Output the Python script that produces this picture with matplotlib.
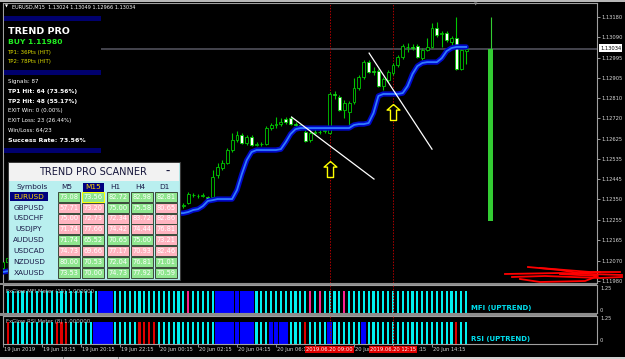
import matplotlib
matplotlib.use("Agg")
import matplotlib.pyplot as plt
from matplotlib.patches import Rectangle
from matplotlib.path import Path
from matplotlib.lines import Line2D

W, H = 625, 359
BAR_PX = 4.875  # pixels per M15 bar on screen

# ---------------- chart data (EURUSD M15) ----------------
opens = [1.12038, 1.12065, 1.12083, 1.12097, 1.12088, 1.12120, 1.12138, 1.12129, 1.12156, 1.12174,
         1.12165, 1.12188, 1.12202, 1.12193, 1.12220, 1.12234, 1.12225, 1.12247, 1.12256, 1.12243,
         1.12229, 1.12238, 1.12256, 1.12274, 1.12265, 1.12283, 1.12297, 1.12288, 1.12279, 1.12293,
         1.12306, 1.12297, 1.12311, 1.12302, 1.12315, 1.12306, 1.12311, 1.12320, 1.12334, 1.12370,
         1.12366, 1.12368, 1.12361, 1.12361, 1.12461, 1.12493, 1.12516, 1.12575, 1.12620, 1.12643,
         1.12607, 1.12634, 1.12600, 1.12602, 1.12602, 1.12675, 1.12689, 1.12693, 1.12716, 1.12720,
         1.12693, 1.12689, 1.12657, 1.12620, 1.12652, 1.12657, 1.12661, 1.12652, 1.12830, 1.12816,
         1.12757, 1.12748, 1.12793, 1.12857, 1.12907, 1.12975, 1.12934, 1.12934, 1.12866, 1.12893,
         1.12925, 1.12962, 1.12998, 1.13044, 1.13044, 1.13048, 1.12993, 1.13030, 1.13044, 1.13130,
         1.13103, 1.13107, 1.13066, 1.13084, 1.12943, 1.13024]
highs = [1.12074, 1.12092, 1.12106, 1.12110, 1.12129, 1.12147, 1.12147, 1.12165, 1.12183, 1.12188,
         1.12197, 1.12215, 1.12211, 1.12229, 1.12243, 1.12243, 1.12256, 1.12265, 1.12261, 1.12252,
         1.12247, 1.12265, 1.12283, 1.12283, 1.12293, 1.12306, 1.12306, 1.12297, 1.12302, 1.12315,
         1.12315, 1.12320, 1.12320, 1.12325, 1.12320, 1.12329, 1.12343, 1.12334, 1.12384, 1.12379,
         1.12375, 1.12379, 1.12366, 1.12484, 1.12516, 1.12529, 1.12584, 1.12652, 1.12661, 1.12652,
         1.12643, 1.12643, 1.12611, 1.12611, 1.12684, 1.12698, 1.12725, 1.12720, 1.12725, 1.12730,
         1.12702, 1.12693, 1.12666, 1.12666, 1.12670, 1.12666, 1.12675, 1.12839, 1.12843, 1.12825,
         1.12802, 1.12798, 1.12902, 1.12916, 1.12984, 1.12984, 1.12953, 1.12943, 1.12907, 1.12939,
         1.12971, 1.13007, 1.13057, 1.13062, 1.13057, 1.13057, 1.13039, 1.13084, 1.13153, 1.13157,
         1.13116, 1.13116, 1.13094, 1.13180, 1.13039, 1.13049]
lows = [1.12029, 1.12052, 1.12074, 1.12079, 1.12083, 1.12111, 1.12120, 1.12120, 1.12147, 1.12156,
        1.12156, 1.12179, 1.12184, 1.12188, 1.12211, 1.12215, 1.12220, 1.12238, 1.12234, 1.12220,
        1.12220, 1.12229, 1.12247, 1.12256, 1.12256, 1.12274, 1.12279, 1.12270, 1.12270, 1.12284,
        1.12288, 1.12288, 1.12293, 1.12293, 1.12297, 1.12297, 1.12302, 1.12311, 1.12329, 1.12361,
        1.12356, 1.12361, 1.12347, 1.12356, 1.12447, 1.12484, 1.12511, 1.12566, 1.12611, 1.12602,
        1.12598, 1.12593, 1.12593, 1.12593, 1.12598, 1.12666, 1.12675, 1.12684, 1.12693, 1.12689,
        1.12680, 1.12666, 1.12611, 1.12611, 1.12648, 1.12648, 1.12652, 1.12648, 1.12807, 1.12752,
        1.12720, 1.12689, 1.12784, 1.12848, 1.12898, 1.12925, 1.12916, 1.12862, 1.12848, 1.12884,
        1.12916, 1.12953, 1.12989, 1.13021, 1.13030, 1.12993, 1.12984, 1.13025, 1.13039, 1.13089,
        1.13044, 1.13066, 1.13053, 1.12939, 1.12939, 1.12966]
closes = [1.12065, 1.12083, 1.12097, 1.12088, 1.12120, 1.12138, 1.12129, 1.12156, 1.12174, 1.12165,
          1.12188, 1.12202, 1.12193, 1.12220, 1.12234, 1.12225, 1.12247, 1.12256, 1.12243, 1.12229,
          1.12238, 1.12256, 1.12274, 1.12265, 1.12283, 1.12297, 1.12288, 1.12279, 1.12293, 1.12306,
          1.12297, 1.12311, 1.12302, 1.12315, 1.12306, 1.12320, 1.12334, 1.12325, 1.12375, 1.12372,
          1.12368, 1.12370, 1.12352, 1.12452, 1.12498, 1.12516, 1.12575, 1.12620, 1.12643, 1.12607,
          1.12634, 1.12598, 1.12602, 1.12604, 1.12675, 1.12689, 1.12693, 1.12702, 1.12702, 1.12693,
          1.12689, 1.12675, 1.12616, 1.12652, 1.12657, 1.12659, 1.12666, 1.12830, 1.12825, 1.12757,
          1.12789, 1.12789, 1.12857, 1.12907, 1.12975, 1.12930, 1.12932, 1.12866, 1.12898, 1.12930,
          1.12962, 1.12998, 1.13048, 1.13046, 1.13039, 1.12998, 1.13030, 1.13044, 1.13130, 1.13098,
          1.13107, 1.13075, 1.13084, 1.12943, 1.13030, 1.13034]

# trend stop line (blue)
trend_line = [1.12020, 1.12024, 1.12029, 1.12033, 1.12038, 1.12038, 1.12038, 1.12038, 1.12047, 1.12074,
              1.12111, 1.12143, 1.12165, 1.12165, 1.12165, 1.12165, 1.12174, 1.12193, 1.12211, 1.12215,
              1.12215, 1.12215, 1.12215, 1.12220, 1.12229, 1.12243, 1.12252, 1.12256, 1.12256, 1.12261,
              1.12270, 1.12275, 1.12279, 1.12279, 1.12284, 1.12284, 1.12288, 1.12288, 1.12293, 1.12302,
              1.12306, 1.12320, 1.12343, 1.12347, 1.12352, 1.12352, 1.12352, 1.12352, 1.12393, 1.12466,
              1.12529, 1.12566, 1.12575, 1.12575, 1.12575, 1.12575, 1.12575, 1.12579, 1.12611, 1.12648,
              1.12670, 1.12675, 1.12675, 1.12675, 1.12675, 1.12675, 1.12675, 1.12675, 1.12675, 1.12675,
              1.12675, 1.12675, 1.12689, 1.12693, 1.12693, 1.12698, 1.12743, 1.12821, 1.12830, 1.12830,
              1.12830, 1.12830, 1.12834, 1.12866, 1.12921, 1.12957, 1.12971, 1.12975, 1.12975, 1.12975,
              1.12993, 1.13025, 1.13039, 1.13044, 1.13044, 1.13044]

signal_bars = [67, 80]
signal_prices = [1.12489, 1.12748]
signal_times = ["2019.06.20 09:00", "2019.06.20 12:15"]

trendline_bars = [[59.2, 76.1], [75.1, 88.0]]
trendline_prices = [[1.12725, 1.12443], [1.13016, 1.12579]]

strength_bar = 100
strength_low, strength_top, strength_high = 1.12253, 1.13034, 1.13180

last_price = 1.13034
price_levels = [1.13180, 1.13090, 1.12995, 1.12905, 1.12810, 1.12720, 1.12625,
                1.12535, 1.12445, 1.12350, 1.12255, 1.12165, 1.12070, 1.11980]

# time scale: tick bars and the part of each label left visible by the red boxes
time_tick_bars = [0, 8, 16, 24, 32, 40, 48, 56, 64, 72, 80, 88]
time_label_bars = [0, 8, 16, 24, 32, 40, 48, 56, 72, 85, 88]
time_labels = ["19 Jun 2019", "19 Jun 18:15", "19 Jun 20:15", "19 Jun 22:15",
               "20 Jun 00:15", "20 Jun 02:15", "20 Jun 04:15", "20 Jun 06:1",
               "20 Jun", ":15", "20 Jun 14:15"]

# meter states per bar: c = up (cyan), b = strong (blue), m / r = down
mfi_state = ("cccccccccc" "cccccccccc" "bbbccccccc" "ccccccccmc" "ccccbbbbbb"
             "bbcccccccc" "cccmcmcccc" "mccccccccc" "cccccccccc" "cccccc")
rsi_state = ("crcccccccc" "crrrcccccb" "bbbcccccrr" "rrcccccccc" "ccccbbbbbb"
             "bbcccbbbbc" "ccrccccbcc" "ccccbccccc" "cccccccccc" "cccrcc")

scanner_symbols = ["EURUSD", "GBPUSD", "USDCHF", "USDJPY", "AUDUSD", "USDCAD", "NZDUSD", "XAUUSD"]
scanner_tfs = ["M5", "M15", "H1", "H4", "D1"]
scanner_values = [
    [73.08, 73.56, 82.72, 82.98, 82.81],
    [57.71, 73.20, 75.00, 75.58, 80.65],
    [75.00, 72.73, 72.34, 83.72, 82.86],
    [71.74, 77.66, 74.42, 74.44, 76.81],
    [71.74, 65.52, 70.65, 75.00, 73.21],
    [74.73, 69.66, 77.17, 70.93, 82.46],
    [80.00, 70.53, 72.04, 76.81, 71.01],
    [73.53, 70.00, 74.73, 77.92, 70.59],
]
scanner_up = ["GGGGG", "PPGGP", "PPPPP", "PPPPP", "GGGGP", "PPPPP", "GGGGG", "GGGGG"]

info_lines = [
    ("TREND PRO", "white", 6.8, "bold"),
    ("BUY 1.11980", "#22EE22", 5.4, "bold"),
    ("TP1: 36Pts (HIT)", "#DADA00", 4.0, "normal"),
    ("TP2: 78Pts (HIT)", "#DADA00", 4.0, "normal"),
    ("Signals: 87", "white", 4.0, "normal"),
    ("TP1 Hit: 64 (73.56%)", "white", 4.2, "bold"),
    ("TP2 Hit: 48 (55.17%)", "white", 4.2, "bold"),
    ("EXIT Win: 0 (0.00%)", "white", 4.0, "normal"),
    ("EXIT Loss: 23 (26.44%)", "white", 4.0, "normal"),
    ("Win/Loss: 64/23", "white", 4.0, "normal"),
    ("Success Rate: 73.56%", "white", 4.5, "bold"),
]
info_y = [31, 42, 52.5, 62, 81, 91, 101, 110.5, 120, 129.5, 140]

# red marker scribble bottom right (pixel points)
scribble = [
    [(505, 274), (560, 273), (622, 275)],
    [(528, 267), (560, 270), (578, 273), (600, 272)],
    [(512, 277), (545, 276), (600, 278), (622, 277)],
    [(520, 279), (540, 282), (585, 281), (598, 276), (560, 274)],
    [(540, 268), (590, 272), (620, 272)],
]

# ---------------- figure ----------------
fig = plt.figure(figsize=(W / 100, H / 100), dpi=100, facecolor="black")


def fx(x):
    return x / W


def fy(y):
    return 1 - y / H


def box(x0, y0, x1, y1, **kw):
    fig.add_artist(Rectangle((fx(x0), fy(y1)), (x1 - x0) / W, (y1 - y0) / H,
                             transform=fig.transFigure, **kw))


def label(x, y, s, **kw):
    kw.setdefault("va", "center")
    fig.text(fx(x), fy(y), s, **kw)


xmax = 594 / BAR_PX
frame = "#A0A0A0"
green = "#00C800"

# ---- main price window ----
ax = fig.add_axes([fx(3), fy(283), 594 / W, 280 / H])
ax.set_facecolor("black")
ax.set_xlim(0, xmax)
ax.set_ylim(1.11970, 1.13244)
idx = list(range(len(closes)))

ax.axhline(last_price, color="#4A4A54", lw=1.3, zorder=1)
for b in signal_bars:
    ax.axvline(b, color="#B00000", ls=(0, (1.5, 1.5)), lw=0.7, zorder=1)

ax.vlines(idx, lows, highs, color=green, lw=0.8, zorder=2)
ax.bar(idx, [c - o for o, c in zip(opens, closes)], bottom=opens, width=0.6,
       color=["black" if c >= o else "white" for o, c in zip(opens, closes)],
       edgecolor=green, linewidth=0.6, zorder=3)

ax.plot(idx, trend_line, color="#0008C8", lw=3.8, solid_capstyle="round", zorder=4)
ax.plot(idx, trend_line, color="#2F7BFF", lw=1.3, zorder=5)

for xs, ys in zip(trendline_bars, trendline_prices):
    ax.plot(xs, ys, color="white", lw=0.9, zorder=6)

arrow = Path([(0, 1), (0.8, 0.3), (0.38, 0.3), (0.38, -1), (-0.38, -1),
              (-0.38, 0.3), (-0.8, 0.3), (0, 1)])
ax.plot(signal_bars, signal_prices, ls="none", marker=arrow, markersize=11.5,
        markerfacecolor="black", markeredgecolor="#FFFF00", markeredgewidth=1.0, zorder=7)

ax.bar([strength_bar], [strength_top - strength_low], bottom=[strength_low], width=0.9,
       color="#33CC33", zorder=3)
ax.vlines([strength_bar], strength_top, strength_high, color="#33CC33", lw=0.8, zorder=3)

ax.yaxis.tick_right()
ax.set_yticks(price_levels)
ax.set_yticklabels([f"{p:.5f}" for p in price_levels])
ax.tick_params(axis="y", colors="#D8D8D8", labelsize=3.7, length=2, width=0.5, pad=1)
ax.set_xticks([])
for s in ax.spines.values():
    s.set_color(frame)
    s.set_linewidth(0.8)

# ---- meter windows ----
meter_colors = {"c": "#00F0F0", "b": "#0000FF", "m": "#FF2090", "r": "#E00000"}
meter_width = {"c": 0.45, "b": 0.95, "m": 0.45, "r": 0.45}


def meter(top, bottom, states, name, tag):
    m = fig.add_axes([fx(3), fy(bottom), 594 / W, (bottom - top) / H])
    m.set_facecolor("black")
    m.set_xlim(0, xmax)
    m.set_ylim(0, 1.25)
    for key in meter_colors:
        pos = [i for i, s in enumerate(states) if s == key]
        m.bar(pos, [1] * len(pos), width=meter_width[key], color=meter_colors[key], zorder=2)
    for b in signal_bars:
        m.axvline(b, color="#B00000", ls=(0, (1.5, 1.5)), lw=0.7, zorder=3)
    m.set_xticks([])
    m.set_yticks([])
    for s in m.spines.values():
        s.set_color(frame)
        s.set_linewidth(0.8)
    label(6, top + 6, name, fontsize=3.9, color="#C0C0C0", zorder=4)
    label(471, bottom - 5, tag, fontsize=5, fontweight="bold", color="#00E0F0")
    label(600, top + 3, "1.25", fontsize=3.7, color="#D8D8D8")
    label(600, bottom - 3, "0", fontsize=3.7, color="#D8D8D8")
    return m


meter(285, 313, mfi_state, "FxGlow MFI Meter (15) 1.000000", "MFI (UPTREND)")
ax_rsi = meter(316, 344, rsi_state, "FxGlow RSI Meter (8) 1.000000", "RSI (UPTREND)")

ax_rsi.set_xticks(time_tick_bars)
ax_rsi.tick_params(axis="x", length=2, width=0.5, colors="#C0C0C0", labelbottom=False)
tr = ax_rsi.get_xaxis_transform()
for b, t in zip(time_label_bars, time_labels):
    ax_rsi.text(b + 0.2, -0.2, t, transform=tr, ha="left", va="center",
                fontsize=3.7, color="#D8D8D8", clip_on=False, zorder=3)
for b, t in zip(signal_bars, signal_times):
    ax_rsi.text(b, -0.2, t, transform=tr, ha="center", va="center", fontsize=3.7,
                color="white", clip_on=False, zorder=6,
                bbox=dict(boxstyle="square,pad=0.25", fc="#E00000", ec="none"))

# window separators and frame
box(0, 0, 625, 1.6, fc="#B8B8B8", zorder=1)
box(0, 283, 597, 285, fc="#8C8C8C", zorder=1)
box(0, 313, 597, 316, fc="#8C8C8C", zorder=1)
box(0, 356.5, 625, 359, fc="#D0D0D0", zorder=1)
box(63, 356.5, 63.8, 359, fc="#808080", zorder=1)
box(118, 356.5, 118.8, 359, fc="#808080", zorder=1)

# header line
label(5, 7, "\u25BC", fontsize=2.8, color="white")
label(12, 7, "EURUSD,M15  1.13024 1.13049 1.12966 1.13034", fontsize=3.6, color="white")
label(476, 4.5, "\u25BC", fontsize=3.2, color="#909090", ha="center")
label(600, 48, "1.13034", fontsize=3.7, color="black",
      bbox=dict(boxstyle="square,pad=0.2", fc="white", ec="none"))

# ---- info panel ----
box(3.5, 10, 101, 155, fc="black", zorder=1)
for y0 in (16, 70, 148):
    box(3.5, y0, 101, y0 + 5, fc="#00006E", zorder=1)
for (t, c, s, w), y in zip(info_lines, info_y):
    label(7.5, y, t, fontsize=s, color=c, fontweight=w)

# ---- scanner panel ----
box(8, 162, 180, 280, fc="#B9EFEF", ec="#3C3C3C", lw=0.8, zorder=1)
box(8.6, 162.6, 179.4, 181, fc="#F2F2F2", zorder=1)
label(93, 172, "TREND PRO SCANNER", fontsize=7, color="#15153A", ha="center")
label(168, 171.5, "\u2013", fontsize=6, color="#15153A", ha="center", fontweight="bold")

col_x = [69, 93.3, 117.6, 141.9, 166.2]
row_y = [196.7, 207.6, 218.5, 229.4, 240.3, 251.2, 262.1, 273.0]
label(32, 187, "Symbols", fontsize=5.3, color="#1A1A48", ha="center")
for j, tf in enumerate(scanner_tfs):
    if j == 1:
        box(col_x[j] - 10.5, 183, col_x[j] + 10.5, 191.5, fc="#000080", zorder=1)
        label(col_x[j], 187, tf, fontsize=5.3, color="#FFD800", ha="center")
    else:
        label(col_x[j] - 2, 187, tf, fontsize=5.3, color="#1A1A48", ha="center")

for r, sym in enumerate(scanner_symbols):
    y = row_y[r]
    if r == 0:
        box(10, y - 4.5, 48, y + 4.5, fc="#000080", zorder=1)
        label(29, y, sym, fontsize=5.3, color="#FFD800", ha="center")
    else:
        label(29, y, sym, fontsize=5.3, color="#1A1A48", ha="center")
    for j, v in enumerate(scanner_values[r]):
        fc = "#8FE68F" if scanner_up[r][j] == "G" else "#FFB4C0"
        ec = "#FFFF00" if (r == 0 and j == 1) else "#3A4A3A"
        box(col_x[j] - 11, y - 5, col_x[j] + 11, y + 5, fc=fc, ec=ec, lw=0.7, zorder=1)
        label(col_x[j], y, f"{v:.2f}", fontsize=4.8, color="white", ha="center")

# red scribble
for stroke in scribble:
    fig.add_artist(Line2D([fx(p[0]) for p in stroke], [fy(p[1]) for p in stroke],
                          transform=fig.transFigure, color="#FF0000", lw=1.3))

plt.savefig("out.png", dpi=100, facecolor="black")
